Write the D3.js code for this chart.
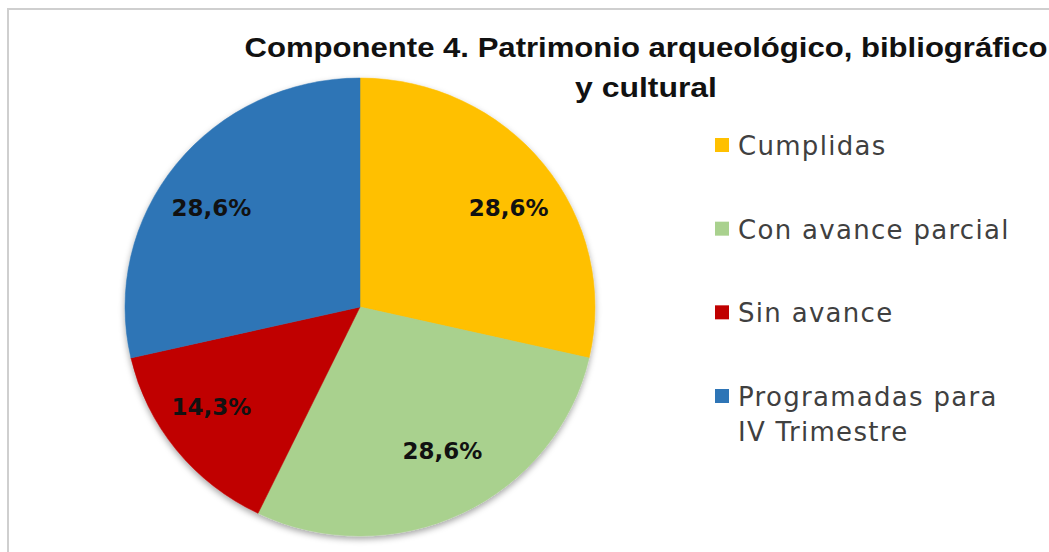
<!DOCTYPE html>
<html>
<head>
<meta charset="utf-8">
<script src="https://cdn.jsdelivr.net/npm/d3@7"></script>
<style>
body{margin:0;background:#fff;}
</style>
</head>
<body>
<svg id="chart" width="1049" height="552"></svg>
<script>
// data
var categories = ["Cumplidas", "Con avance parcial", "Sin avance", "Programadas para IV Trimestre"];
var legendLines = [["Cumplidas"], ["Con avance parcial"], ["Sin avance"], ["Programadas para", "IV Trimestre"]];
var values = [28.6, 28.6, 14.3, 28.6];
var colors = ["#FFC000", "#A9D18E", "#C00000", "#2E75B6"];
var titleLines = ["Componente 4. Patrimonio arqueológico, bibliográfico", "y cultural"];

var svg = d3.select("#chart");
var width = +svg.attr("width");
var height = +svg.attr("height");

// chart frame
svg.append("rect")
  .attr("x", 8).attr("y", 9)
  .attr("width", width + 20).attr("height", height + 20)
  .style("fill", "#fff")
  .style("stroke", "#cfcfcf")
  .style("stroke-width", 2);

var defs = svg.append("defs");
var shadow = defs.append("filter").attr("id", "shadow")
  .attr("x", "-10%").attr("y", "-10%").attr("width", "120%").attr("height", "125%");
shadow.append("feDropShadow")
  .attr("dx", 0).attr("dy", 3).attr("stdDeviation", 3)
  .attr("flood-color", "#000").attr("flood-opacity", 0.35);

// title
var title = svg.append("g").attr("class", "title");
title.selectAll("text").data(titleLines).enter()
  .append("text")
  .attr("x", 646)
  .attr("y", function(d, i){ return 57 + i * 40; })
  .attr("text-anchor", "middle")
  .attr("textLength", function(d, i){ return i == 0 ? 803 : 142; })
  .attr("lengthAdjust", "spacingAndGlyphs")
  .style("font-family", "'Liberation Sans Narrow', 'Liberation Sans', sans-serif")
  .style("font-weight", "bold")
  .style("font-size", "28px")
  .style("fill", "#111")
  .text(function(d){ return d; });

// pie
var cx = 360, cy = 307, ry = 229, rx = 235;
var color = d3.scaleOrdinal().domain(categories).range(colors);
var pie = d3.pie().sort(null).value(function(d){ return d.value; });
var table = categories.map(function(c, i){ return {name: c, value: values[i]}; });
var arcs = pie(table);
var arc = d3.arc().innerRadius(0).outerRadius(ry);
var unitArc = d3.arc().innerRadius(1).outerRadius(1);

var g = svg.append("g")
  .attr("transform", "translate(" + cx + "," + cy + ")");

g.append("g")
  .attr("transform", "scale(" + (rx / ry) + ",1)")
  .attr("filter", "url(#shadow)")
  .selectAll("path")
  .data(arcs)
  .enter()
  .append("path")
  .attr("d", arc)
  .style("fill", function(d){ return color(d.data.name); })
  .style("stroke", function(d){ return color(d.data.name); })
  .style("stroke-width", 0.5);

// percentage labels
var fmt = d3.format(".1f");
g.selectAll("text.lbl")
  .data(arcs)
  .enter()
  .append("text")
  .attr("class", "lbl")
  .attr("x", function(d){ return unitArc.centroid(d)[0] * 190; })
  .attr("y", function(d){ return unitArc.centroid(d)[1] * 160; })
  .attr("dy", "0.36em")
  .attr("text-anchor", "middle")
  .style("font-family", "'DejaVu Sans', sans-serif")
  .style("font-weight", "bold")
  .style("font-size", "23px")
  .style("fill", "#111")
  .text(function(d){ return fmt(d.data.value).replace(".", ",") + "%"; });

// legend
var legendY = d3.scaleLinear().domain([0, 3]).range([155, 406]);
var legend = svg.append("g").attr("class", "legend");
var item = legend.selectAll("g")
  .data(categories)
  .enter()
  .append("g")
  .attr("transform", function(d, i){ return "translate(715," + legendY(i) + ")"; });

item.append("rect")
  .attr("x", 0).attr("y", -17)
  .attr("width", 14).attr("height", 14)
  .style("fill", function(d){ return color(d); });

item.append("text")
  .attr("x", 23)
  .style("font-family", "'DejaVu Sans', sans-serif")
  .style("font-size", "26px")
  .style("letter-spacing", "1.3px")
  .style("fill", "#404040")
  .selectAll("tspan")
  .data(function(d, i){ return legendLines[i]; })
  .enter()
  .append("tspan")
  .attr("x", 23)
  .attr("dy", function(d, j){ return j == 0 ? 0 : 35; })
  .text(function(d){ return d; });
</script>
</body>
</html>
